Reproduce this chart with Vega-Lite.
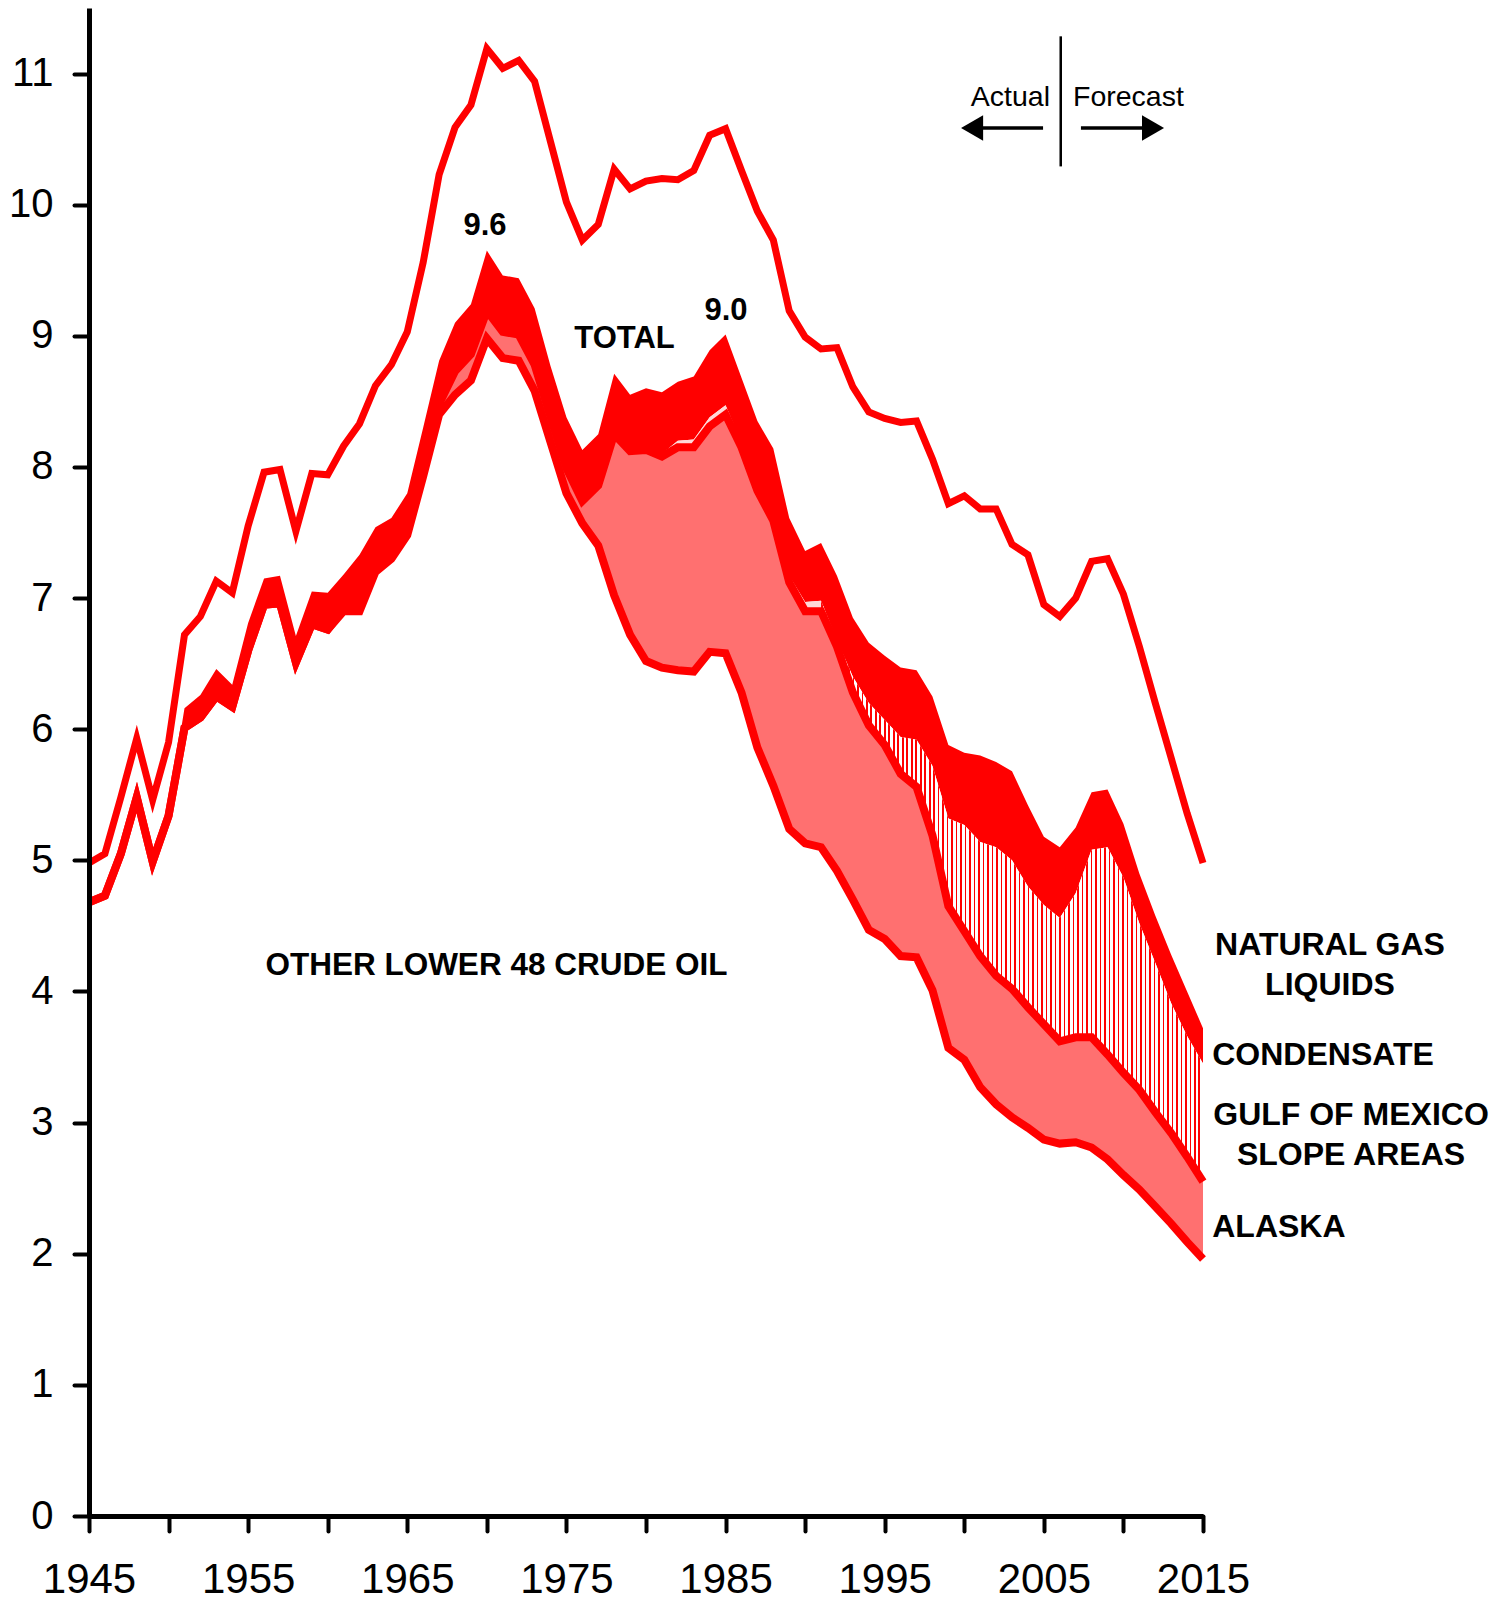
{
  "$schema": "https://vega.github.io/schema/vega-lite/v6.json",
  "width": 1114,
  "height": 1508,
  "autosize": {"type": "none"},
  "padding": {"left": 89, "top": 8, "right": 303, "bottom": 86},
  "background": "white",
  "config": {"view": {"stroke": null}, "font": "Liberation Sans"},
  "datasets": {
    "oil": [
    {"year":1945,"l48":4.68,"ak":4.68,"gom":4.68,"crude":4.70,"total":4.98},
    {"year":1946,"l48":4.73,"ak":4.73,"gom":4.73,"crude":4.75,"total":5.05},
    {"year":1947,"l48":5.05,"ak":5.05,"gom":5.05,"crude":5.09,"total":5.48},
    {"year":1948,"l48":5.48,"ak":5.48,"gom":5.48,"crude":5.52,"total":5.93},
    {"year":1949,"l48":4.99,"ak":4.99,"gom":4.99,"crude":5.05,"total":5.46},
    {"year":1950,"l48":5.34,"ak":5.34,"gom":5.34,"crude":5.41,"total":5.90},
    {"year":1951,"l48":6.01,"ak":6.01,"gom":6.01,"crude":6.16,"total":6.72},
    {"year":1952,"l48":6.09,"ak":6.09,"gom":6.09,"crude":6.26,"total":6.86},
    {"year":1953,"l48":6.25,"ak":6.25,"gom":6.25,"crude":6.46,"total":7.13},
    {"year":1954,"l48":6.17,"ak":6.17,"gom":6.17,"crude":6.34,"total":7.04},
    {"year":1955,"l48":6.60,"ak":6.60,"gom":6.60,"crude":6.81,"total":7.55},
    {"year":1956,"l48":6.95,"ak":6.95,"gom":6.95,"crude":7.15,"total":7.96},
    {"year":1957,"l48":6.96,"ak":6.96,"gom":6.96,"crude":7.17,"total":7.98},
    {"year":1958,"l48":6.51,"ak":6.51,"gom":6.51,"crude":6.71,"total":7.51},
    {"year":1959,"l48":6.80,"ak":6.80,"gom":6.80,"crude":7.05,"total":7.95},
    {"year":1960,"l48":6.76,"ak":6.76,"gom":6.76,"crude":7.04,"total":7.94},
    {"year":1961,"l48":6.90,"ak":6.92,"gom":6.92,"crude":7.18,"total":8.16},
    {"year":1962,"l48":6.90,"ak":6.93,"gom":6.93,"crude":7.33,"total":8.33},
    {"year":1963,"l48":7.20,"ak":7.23,"gom":7.23,"crude":7.54,"total":8.62},
    {"year":1964,"l48":7.30,"ak":7.33,"gom":7.33,"crude":7.61,"total":8.78},
    {"year":1965,"l48":7.48,"ak":7.51,"gom":7.51,"crude":7.80,"total":9.03},
    {"year":1966,"l48":7.93,"ak":7.97,"gom":7.97,"crude":8.30,"total":9.56},
    {"year":1967,"l48":8.40,"ak":8.48,"gom":8.48,"crude":8.81,"total":10.23},
    {"year":1968,"l48":8.55,"ak":8.73,"gom":8.73,"crude":9.10,"total":10.59},
    {"year":1969,"l48":8.66,"ak":8.86,"gom":8.86,"crude":9.24,"total":10.76},
    {"year":1970,"l48":8.98,"ak":9.19,"gom":9.19,"crude":9.65,"total":11.19},
    {"year":1971,"l48":8.83,"ak":9.03,"gom":9.03,"crude":9.46,"total":11.04},
    {"year":1972,"l48":8.81,"ak":9.01,"gom":9.01,"crude":9.44,"total":11.10},
    {"year":1973,"l48":8.58,"ak":8.78,"gom":8.78,"crude":9.21,"total":10.94},
    {"year":1974,"l48":8.19,"ak":8.38,"gom":8.38,"crude":8.77,"total":10.48},
    {"year":1975,"l48":7.80,"ak":7.99,"gom":7.99,"crude":8.38,"total":10.02},
    {"year":1976,"l48":7.57,"ak":7.74,"gom":7.74,"crude":8.13,"total":9.73},
    {"year":1977,"l48":7.40,"ak":7.86,"gom":7.86,"crude":8.25,"total":9.85},
    {"year":1978,"l48":7.02,"ak":8.25,"gom":8.26,"crude":8.71,"total":10.27},
    {"year":1979,"l48":6.72,"ak":8.12,"gom":8.13,"crude":8.55,"total":10.12},
    {"year":1980,"l48":6.52,"ak":8.13,"gom":8.14,"crude":8.60,"total":10.18},
    {"year":1981,"l48":6.47,"ak":8.08,"gom":8.10,"crude":8.57,"total":10.20},
    {"year":1982,"l48":6.45,"ak":8.15,"gom":8.20,"crude":8.65,"total":10.19},
    {"year":1983,"l48":6.44,"ak":8.15,"gom":8.21,"crude":8.69,"total":10.26},
    {"year":1984,"l48":6.59,"ak":8.31,"gom":8.38,"crude":8.89,"total":10.53},
    {"year":1985,"l48":6.58,"ak":8.40,"gom":8.47,"crude":9.01,"total":10.58},
    {"year":1986,"l48":6.28,"ak":8.15,"gom":8.19,"crude":8.68,"total":10.26},
    {"year":1987,"l48":5.86,"ak":7.82,"gom":7.85,"crude":8.35,"total":9.95},
    {"year":1988,"l48":5.57,"ak":7.59,"gom":7.62,"crude":8.14,"total":9.73},
    {"year":1989,"l48":5.24,"ak":7.12,"gom":7.17,"crude":7.61,"total":9.19},
    {"year":1990,"l48":5.13,"ak":6.90,"gom":6.97,"crude":7.36,"total":8.99},
    {"year":1991,"l48":5.10,"ak":6.90,"gom":6.98,"crude":7.42,"total":8.90},
    {"year":1992,"l48":4.92,"ak":6.63,"gom":6.68,"crude":7.17,"total":8.91},
    {"year":1993,"l48":4.70,"ak":6.28,"gom":6.40,"crude":6.85,"total":8.61},
    {"year":1994,"l48":4.47,"ak":6.03,"gom":6.20,"crude":6.66,"total":8.42},
    {"year":1995,"l48":4.40,"ak":5.88,"gom":6.07,"crude":6.56,"total":8.37},
    {"year":1996,"l48":4.27,"ak":5.66,"gom":5.94,"crude":6.47,"total":8.34},
    {"year":1997,"l48":4.26,"ak":5.56,"gom":5.92,"crude":6.45,"total":8.35},
    {"year":1998,"l48":4.01,"ak":5.19,"gom":5.72,"crude":6.25,"total":8.06},
    {"year":1999,"l48":3.57,"ak":4.65,"gom":5.32,"crude":5.88,"total":7.72},
    {"year":2000,"l48":3.48,"ak":4.46,"gom":5.27,"crude":5.82,"total":7.78},
    {"year":2001,"l48":3.27,"ak":4.27,"gom":5.14,"crude":5.80,"total":7.68},
    {"year":2002,"l48":3.14,"ak":4.12,"gom":5.10,"crude":5.75,"total":7.68},
    {"year":2003,"l48":3.04,"ak":4.02,"gom":5.00,"crude":5.68,"total":7.41},
    {"year":2004,"l48":2.96,"ak":3.88,"gom":4.80,"crude":5.42,"total":7.33},
    {"year":2005,"l48":2.87,"ak":3.75,"gom":4.66,"crude":5.18,"total":6.95},
    {"year":2006,"l48":2.84,"ak":3.62,"gom":4.56,"crude":5.10,"total":6.86},
    {"year":2007,"l48":2.85,"ak":3.65,"gom":4.75,"crude":5.25,"total":7.00},
    {"year":2008,"l48":2.81,"ak":3.65,"gom":5.08,"crude":5.52,"total":7.28},
    {"year":2009,"l48":2.72,"ak":3.52,"gom":5.10,"crude":5.54,"total":7.30},
    {"year":2010,"l48":2.60,"ak":3.38,"gom":4.87,"crude":5.28,"total":7.03},
    {"year":2011,"l48":2.49,"ak":3.25,"gom":4.52,"crude":4.90,"total":6.63},
    {"year":2012,"l48":2.36,"ak":3.08,"gom":4.22,"crude":4.58,"total":6.20},
    {"year":2013,"l48":2.23,"ak":2.92,"gom":3.91,"crude":4.28,"total":5.78},
    {"year":2014,"l48":2.09,"ak":2.74,"gom":3.66,"crude":4.00,"total":5.36},
    {"year":2015,"l48":1.96,"ak":2.55,"gom":3.45,"crude":3.72,"total":4.98}
    ]
  },
  "layer": [
    {
      "data": {"name": "oil"},
      "mark": {"type": "area", "color": "#ff0000"},
      "encoding": {
        "x": {
          "field": "year", "type": "quantitative", "title": null,
          "scale": {"domain": [1945, 2015], "nice": false, "zero": false},
          "axis": {
            "values": [1945,1950,1955,1960,1965,1970,1975,1980,1985,1990,1995,2000,2005,2010,2015],
            "format": "d",
            "labelExpr": "(datum.value - 1945) % 10 === 0 ? datum.label : ''",
            "tickSize": 15, "tickWidth": 4, "tickColor": "black", "tickCap": "round",
            "domainWidth": 5, "domainColor": "black",
            "labelFont": "Liberation Sans", "labelFontSize": 42, "labelColor": "black",
            "labelPadding": 28, "labelFlush": false, "labelOverlap": false, "labelBound": false,
            "grid": false, "zindex": 1
          }
        },
        "y": {
          "field": "gom", "type": "quantitative", "title": null,
          "scale": {"domain": [0, 11.5], "nice": false, "zero": true},
          "axis": {
            "values": [0,0.5,1,1.5,2,2.5,3,3.5,4,4.5,5,5.5,6,6.5,7,7.5,8,8.5,9,9.5,10,10.5,11,11.5],
            "format": "d",
            "labelExpr": "datum.value % 1 === 0 ? format(datum.value, 'd') : ''",
            "tickSize": {"condition": {"test": "datum.value % 1 === 0", "value": 15}, "value": 10},
            "tickWidth": 4, "tickColor": "black", "tickCap": "round",
            "domainWidth": 5, "domainColor": "black",
            "labelFont": "Liberation Sans", "labelFontSize": 40, "labelColor": "black",
            "labelPadding": 21, "labelFlush": false, "labelOverlap": false, "labelBound": false,
            "grid": false, "zindex": 1
          }
        },
        "y2": {"field": "crude"}
      }
    },
    {
      "data": {"name": "oil"},
      "transform": [{"filter": "datum.year >= 1976 && datum.year <= 1991"}],
      "mark": {"type": "area", "color": "#ffd8d8"},
      "encoding": {
        "x": {"field": "year", "type": "quantitative"},
        "y": {"field": "ak", "type": "quantitative", "title": null},
        "y2": {"field": "gom"}
      }
    },
    {
      "data": {"name": "oil"},
      "transform": [{"filter": "datum.year >= 1991"}],
      "mark": {"type": "area", "fill": {"gradient": "linear", "x1": 0, "y1": 0, "x2": 1, "y2": 0, "stops": [
        {"offset":0,"color":"#f00"},{"offset":0.0042,"color":"#f00"},{"offset":0.0042,"color":"#fff"},
        {"offset":0.0118,"color":"#fff"},{"offset":0.0118,"color":"#f00"},{"offset":0.016,"color":"#f00"},{"offset":0.016,"color":"#fff"},
        {"offset":0.0235,"color":"#fff"},{"offset":0.0235,"color":"#f00"},{"offset":0.0277,"color":"#f00"},{"offset":0.0277,"color":"#fff"},
        {"offset":0.0353,"color":"#fff"},{"offset":0.0353,"color":"#f00"},{"offset":0.0395,"color":"#f00"},{"offset":0.0395,"color":"#fff"},
        {"offset":0.0471,"color":"#fff"},{"offset":0.0471,"color":"#f00"},{"offset":0.0513,"color":"#f00"},{"offset":0.0513,"color":"#fff"},
        {"offset":0.0588,"color":"#fff"},{"offset":0.0588,"color":"#f00"},{"offset":0.063,"color":"#f00"},{"offset":0.063,"color":"#fff"},
        {"offset":0.0706,"color":"#fff"},{"offset":0.0706,"color":"#f00"},{"offset":0.0748,"color":"#f00"},{"offset":0.0748,"color":"#fff"},
        {"offset":0.0824,"color":"#fff"},{"offset":0.0824,"color":"#f00"},{"offset":0.0866,"color":"#f00"},{"offset":0.0866,"color":"#fff"},
        {"offset":0.0941,"color":"#fff"},{"offset":0.0941,"color":"#f00"},{"offset":0.0983,"color":"#f00"},{"offset":0.0983,"color":"#fff"},
        {"offset":0.1059,"color":"#fff"},{"offset":0.1059,"color":"#f00"},{"offset":0.1101,"color":"#f00"},{"offset":0.1101,"color":"#fff"},
        {"offset":0.1176,"color":"#fff"},{"offset":0.1176,"color":"#f00"},{"offset":0.1218,"color":"#f00"},{"offset":0.1218,"color":"#fff"},
        {"offset":0.1294,"color":"#fff"},{"offset":0.1294,"color":"#f00"},{"offset":0.1336,"color":"#f00"},{"offset":0.1336,"color":"#fff"},
        {"offset":0.1412,"color":"#fff"},{"offset":0.1412,"color":"#f00"},{"offset":0.1454,"color":"#f00"},{"offset":0.1454,"color":"#fff"},
        {"offset":0.1529,"color":"#fff"},{"offset":0.1529,"color":"#f00"},{"offset":0.1571,"color":"#f00"},{"offset":0.1571,"color":"#fff"},
        {"offset":0.1647,"color":"#fff"},{"offset":0.1647,"color":"#f00"},{"offset":0.1689,"color":"#f00"},{"offset":0.1689,"color":"#fff"},
        {"offset":0.1765,"color":"#fff"},{"offset":0.1765,"color":"#f00"},{"offset":0.1807,"color":"#f00"},{"offset":0.1807,"color":"#fff"},
        {"offset":0.1882,"color":"#fff"},{"offset":0.1882,"color":"#f00"},{"offset":0.1924,"color":"#f00"},{"offset":0.1924,"color":"#fff"},
        {"offset":0.2,"color":"#fff"},{"offset":0.2,"color":"#f00"},{"offset":0.2042,"color":"#f00"},{"offset":0.2042,"color":"#fff"},
        {"offset":0.2118,"color":"#fff"},{"offset":0.2118,"color":"#f00"},{"offset":0.216,"color":"#f00"},{"offset":0.216,"color":"#fff"},
        {"offset":0.2235,"color":"#fff"},{"offset":0.2235,"color":"#f00"},{"offset":0.2277,"color":"#f00"},{"offset":0.2277,"color":"#fff"},
        {"offset":0.2353,"color":"#fff"},{"offset":0.2353,"color":"#f00"},{"offset":0.2395,"color":"#f00"},{"offset":0.2395,"color":"#fff"},
        {"offset":0.2471,"color":"#fff"},{"offset":0.2471,"color":"#f00"},{"offset":0.2513,"color":"#f00"},{"offset":0.2513,"color":"#fff"},
        {"offset":0.2588,"color":"#fff"},{"offset":0.2588,"color":"#f00"},{"offset":0.263,"color":"#f00"},{"offset":0.263,"color":"#fff"},
        {"offset":0.2706,"color":"#fff"},{"offset":0.2706,"color":"#f00"},{"offset":0.2748,"color":"#f00"},{"offset":0.2748,"color":"#fff"},
        {"offset":0.2824,"color":"#fff"},{"offset":0.2824,"color":"#f00"},{"offset":0.2866,"color":"#f00"},{"offset":0.2866,"color":"#fff"},
        {"offset":0.2941,"color":"#fff"},{"offset":0.2941,"color":"#f00"},{"offset":0.2983,"color":"#f00"},{"offset":0.2983,"color":"#fff"},
        {"offset":0.3059,"color":"#fff"},{"offset":0.3059,"color":"#f00"},{"offset":0.3101,"color":"#f00"},{"offset":0.3101,"color":"#fff"},
        {"offset":0.3176,"color":"#fff"},{"offset":0.3176,"color":"#f00"},{"offset":0.3218,"color":"#f00"},{"offset":0.3218,"color":"#fff"},
        {"offset":0.3294,"color":"#fff"},{"offset":0.3294,"color":"#f00"},{"offset":0.3336,"color":"#f00"},{"offset":0.3336,"color":"#fff"},
        {"offset":0.3412,"color":"#fff"},{"offset":0.3412,"color":"#f00"},{"offset":0.3454,"color":"#f00"},{"offset":0.3454,"color":"#fff"},
        {"offset":0.3529,"color":"#fff"},{"offset":0.3529,"color":"#f00"},{"offset":0.3571,"color":"#f00"},{"offset":0.3571,"color":"#fff"},
        {"offset":0.3647,"color":"#fff"},{"offset":0.3647,"color":"#f00"},{"offset":0.3689,"color":"#f00"},{"offset":0.3689,"color":"#fff"},
        {"offset":0.3765,"color":"#fff"},{"offset":0.3765,"color":"#f00"},{"offset":0.3807,"color":"#f00"},{"offset":0.3807,"color":"#fff"},
        {"offset":0.3882,"color":"#fff"},{"offset":0.3882,"color":"#f00"},{"offset":0.3924,"color":"#f00"},{"offset":0.3924,"color":"#fff"},
        {"offset":0.4,"color":"#fff"},{"offset":0.4,"color":"#f00"},{"offset":0.4042,"color":"#f00"},{"offset":0.4042,"color":"#fff"},
        {"offset":0.4118,"color":"#fff"},{"offset":0.4118,"color":"#f00"},{"offset":0.416,"color":"#f00"},{"offset":0.416,"color":"#fff"},
        {"offset":0.4235,"color":"#fff"},{"offset":0.4235,"color":"#f00"},{"offset":0.4277,"color":"#f00"},{"offset":0.4277,"color":"#fff"},
        {"offset":0.4353,"color":"#fff"},{"offset":0.4353,"color":"#f00"},{"offset":0.4395,"color":"#f00"},{"offset":0.4395,"color":"#fff"},
        {"offset":0.4471,"color":"#fff"},{"offset":0.4471,"color":"#f00"},{"offset":0.4513,"color":"#f00"},{"offset":0.4513,"color":"#fff"},
        {"offset":0.4588,"color":"#fff"},{"offset":0.4588,"color":"#f00"},{"offset":0.463,"color":"#f00"},{"offset":0.463,"color":"#fff"},
        {"offset":0.4706,"color":"#fff"},{"offset":0.4706,"color":"#f00"},{"offset":0.4748,"color":"#f00"},{"offset":0.4748,"color":"#fff"},
        {"offset":0.4824,"color":"#fff"},{"offset":0.4824,"color":"#f00"},{"offset":0.4866,"color":"#f00"},{"offset":0.4866,"color":"#fff"},
        {"offset":0.4941,"color":"#fff"},{"offset":0.4941,"color":"#f00"},{"offset":0.4983,"color":"#f00"},{"offset":0.4983,"color":"#fff"},
        {"offset":0.5059,"color":"#fff"},{"offset":0.5059,"color":"#f00"},{"offset":0.5101,"color":"#f00"},{"offset":0.5101,"color":"#fff"},
        {"offset":0.5176,"color":"#fff"},{"offset":0.5176,"color":"#f00"},{"offset":0.5218,"color":"#f00"},{"offset":0.5218,"color":"#fff"},
        {"offset":0.5294,"color":"#fff"},{"offset":0.5294,"color":"#f00"},{"offset":0.5336,"color":"#f00"},{"offset":0.5336,"color":"#fff"},
        {"offset":0.5412,"color":"#fff"},{"offset":0.5412,"color":"#f00"},{"offset":0.5454,"color":"#f00"},{"offset":0.5454,"color":"#fff"},
        {"offset":0.5529,"color":"#fff"},{"offset":0.5529,"color":"#f00"},{"offset":0.5571,"color":"#f00"},{"offset":0.5571,"color":"#fff"},
        {"offset":0.5647,"color":"#fff"},{"offset":0.5647,"color":"#f00"},{"offset":0.5689,"color":"#f00"},{"offset":0.5689,"color":"#fff"},
        {"offset":0.5765,"color":"#fff"},{"offset":0.5765,"color":"#f00"},{"offset":0.5807,"color":"#f00"},{"offset":0.5807,"color":"#fff"},
        {"offset":0.5882,"color":"#fff"},{"offset":0.5882,"color":"#f00"},{"offset":0.5924,"color":"#f00"},{"offset":0.5924,"color":"#fff"},
        {"offset":0.6,"color":"#fff"},{"offset":0.6,"color":"#f00"},{"offset":0.6042,"color":"#f00"},{"offset":0.6042,"color":"#fff"},
        {"offset":0.6118,"color":"#fff"},{"offset":0.6118,"color":"#f00"},{"offset":0.616,"color":"#f00"},{"offset":0.616,"color":"#fff"},
        {"offset":0.6235,"color":"#fff"},{"offset":0.6235,"color":"#f00"},{"offset":0.6277,"color":"#f00"},{"offset":0.6277,"color":"#fff"},
        {"offset":0.6353,"color":"#fff"},{"offset":0.6353,"color":"#f00"},{"offset":0.6395,"color":"#f00"},{"offset":0.6395,"color":"#fff"},
        {"offset":0.6471,"color":"#fff"},{"offset":0.6471,"color":"#f00"},{"offset":0.6513,"color":"#f00"},{"offset":0.6513,"color":"#fff"},
        {"offset":0.6588,"color":"#fff"},{"offset":0.6588,"color":"#f00"},{"offset":0.663,"color":"#f00"},{"offset":0.663,"color":"#fff"},
        {"offset":0.6706,"color":"#fff"},{"offset":0.6706,"color":"#f00"},{"offset":0.6748,"color":"#f00"},{"offset":0.6748,"color":"#fff"},
        {"offset":0.6824,"color":"#fff"},{"offset":0.6824,"color":"#f00"},{"offset":0.6866,"color":"#f00"},{"offset":0.6866,"color":"#fff"},
        {"offset":0.6941,"color":"#fff"},{"offset":0.6941,"color":"#f00"},{"offset":0.6983,"color":"#f00"},{"offset":0.6983,"color":"#fff"},
        {"offset":0.7059,"color":"#fff"},{"offset":0.7059,"color":"#f00"},{"offset":0.7101,"color":"#f00"},{"offset":0.7101,"color":"#fff"},
        {"offset":0.7176,"color":"#fff"},{"offset":0.7176,"color":"#f00"},{"offset":0.7218,"color":"#f00"},{"offset":0.7218,"color":"#fff"},
        {"offset":0.7294,"color":"#fff"},{"offset":0.7294,"color":"#f00"},{"offset":0.7336,"color":"#f00"},{"offset":0.7336,"color":"#fff"},
        {"offset":0.7412,"color":"#fff"},{"offset":0.7412,"color":"#f00"},{"offset":0.7454,"color":"#f00"},{"offset":0.7454,"color":"#fff"},
        {"offset":0.7529,"color":"#fff"},{"offset":0.7529,"color":"#f00"},{"offset":0.7571,"color":"#f00"},{"offset":0.7571,"color":"#fff"},
        {"offset":0.7647,"color":"#fff"},{"offset":0.7647,"color":"#f00"},{"offset":0.7689,"color":"#f00"},{"offset":0.7689,"color":"#fff"},
        {"offset":0.7765,"color":"#fff"},{"offset":0.7765,"color":"#f00"},{"offset":0.7807,"color":"#f00"},{"offset":0.7807,"color":"#fff"},
        {"offset":0.7882,"color":"#fff"},{"offset":0.7882,"color":"#f00"},{"offset":0.7924,"color":"#f00"},{"offset":0.7924,"color":"#fff"},
        {"offset":0.8,"color":"#fff"},{"offset":0.8,"color":"#f00"},{"offset":0.8042,"color":"#f00"},{"offset":0.8042,"color":"#fff"},
        {"offset":0.8118,"color":"#fff"},{"offset":0.8118,"color":"#f00"},{"offset":0.816,"color":"#f00"},{"offset":0.816,"color":"#fff"},
        {"offset":0.8235,"color":"#fff"},{"offset":0.8235,"color":"#f00"},{"offset":0.8277,"color":"#f00"},{"offset":0.8277,"color":"#fff"},
        {"offset":0.8353,"color":"#fff"},{"offset":0.8353,"color":"#f00"},{"offset":0.8395,"color":"#f00"},{"offset":0.8395,"color":"#fff"},
        {"offset":0.8471,"color":"#fff"},{"offset":0.8471,"color":"#f00"},{"offset":0.8513,"color":"#f00"},{"offset":0.8513,"color":"#fff"},
        {"offset":0.8588,"color":"#fff"},{"offset":0.8588,"color":"#f00"},{"offset":0.863,"color":"#f00"},{"offset":0.863,"color":"#fff"},
        {"offset":0.8706,"color":"#fff"},{"offset":0.8706,"color":"#f00"},{"offset":0.8748,"color":"#f00"},{"offset":0.8748,"color":"#fff"},
        {"offset":0.8824,"color":"#fff"},{"offset":0.8824,"color":"#f00"},{"offset":0.8866,"color":"#f00"},{"offset":0.8866,"color":"#fff"},
        {"offset":0.8941,"color":"#fff"},{"offset":0.8941,"color":"#f00"},{"offset":0.8983,"color":"#f00"},{"offset":0.8983,"color":"#fff"},
        {"offset":0.9059,"color":"#fff"},{"offset":0.9059,"color":"#f00"},{"offset":0.9101,"color":"#f00"},{"offset":0.9101,"color":"#fff"},
        {"offset":0.9176,"color":"#fff"},{"offset":0.9176,"color":"#f00"},{"offset":0.9218,"color":"#f00"},{"offset":0.9218,"color":"#fff"},
        {"offset":0.9294,"color":"#fff"},{"offset":0.9294,"color":"#f00"},{"offset":0.9336,"color":"#f00"},{"offset":0.9336,"color":"#fff"},
        {"offset":0.9412,"color":"#fff"},{"offset":0.9412,"color":"#f00"},{"offset":0.9454,"color":"#f00"},{"offset":0.9454,"color":"#fff"},
        {"offset":0.9529,"color":"#fff"},{"offset":0.9529,"color":"#f00"},{"offset":0.9571,"color":"#f00"},{"offset":0.9571,"color":"#fff"},
        {"offset":0.9647,"color":"#fff"},{"offset":0.9647,"color":"#f00"},{"offset":0.9689,"color":"#f00"},{"offset":0.9689,"color":"#fff"},
        {"offset":0.9765,"color":"#fff"},{"offset":0.9765,"color":"#f00"},{"offset":0.9807,"color":"#f00"},{"offset":0.9807,"color":"#fff"},
        {"offset":0.9882,"color":"#fff"},{"offset":0.9882,"color":"#f00"},{"offset":0.9924,"color":"#f00"},{"offset":0.9924,"color":"#fff"},
        {"offset":1,"color":"#fff"}
      ]}},
      "encoding": {
        "x": {"field": "year", "type": "quantitative"},
        "y": {"field": "ak", "type": "quantitative", "title": null},
        "y2": {"field": "gom"}
      }
    },
    {
      "data": {"name": "oil"},
      "mark": {"type": "area", "color": "#ff7070"},
      "encoding": {
        "x": {"field": "year", "type": "quantitative"},
        "y": {"field": "l48", "type": "quantitative", "title": null},
        "y2": {"field": "ak"}
      }
    },
    {
      "data": {"name": "oil"},
      "mark": {"type": "line", "color": "#ff0000", "strokeWidth": 8},
      "encoding": {
        "x": {"field": "year", "type": "quantitative"},
        "y": {"field": "l48", "type": "quantitative", "title": null}
      }
    },
    {
      "data": {"name": "oil"},
      "mark": {"type": "line", "color": "#ff0000", "strokeWidth": 8},
      "encoding": {
        "x": {"field": "year", "type": "quantitative"},
        "y": {"field": "ak", "type": "quantitative", "title": null}
      }
    },
    {
      "data": {"name": "oil"},
      "mark": {"type": "line", "color": "#ff0000", "strokeWidth": 7},
      "encoding": {
        "x": {"field": "year", "type": "quantitative"},
        "y": {"field": "total", "type": "quantitative", "title": null}
      }
    },
    {
      "data": {"values": [{"k": 1}]},
      "mark": {"type": "rule", "color": "black", "strokeWidth": 2.5},
      "encoding": {"x": {"datum": 2006.06}, "y": {"datum": 11.284}, "y2": {"datum": 10.292}}
    },
    {
      "data": {"values": [{"k": 1}]},
      "mark": {"type": "rule", "color": "black", "strokeWidth": 3.3},
      "encoding": {"x": {"datum": 2000.6}, "x2": {"datum": 2004.95}, "y": {"datum": 10.585}}
    },
    {
      "data": {"values": [{"k": 1}]},
      "mark": {"type": "rule", "color": "black", "strokeWidth": 3.3},
      "encoding": {"x": {"datum": 2007.33}, "x2": {"datum": 2011.75}, "y": {"datum": 10.585}}
    },
    {
      "data": {"values": [{"k": 1}]},
      "mark": {"type": "point", "shape": "triangle-left", "filled": true, "color": "black", "opacity": 1, "size": 650, "strokeWidth": 0},
      "encoding": {"x": {"datum": 2000.49}, "y": {"datum": 10.585}}
    },
    {
      "data": {"values": [{"k": 1}]},
      "mark": {"type": "point", "shape": "triangle-right", "filled": true, "color": "black", "opacity": 1, "size": 650, "strokeWidth": 0},
      "encoding": {"x": {"datum": 2011.86}, "y": {"datum": 10.585}}
    },
    {
      "data": {"values": [{"k": 1}]},
      "mark": {"type": "text", "text": "Actual", "font": "Liberation Sans", "fontSize": 28.5, "align": "right", "baseline": "alphabetic", "color": "black"},
      "encoding": {"x": {"datum": 2005.39}, "y": {"datum": 10.755}}
    },
    {
      "data": {"values": [{"k": 1}]},
      "mark": {"type": "text", "text": "Forecast", "font": "Liberation Sans", "fontSize": 28.5, "align": "left", "baseline": "alphabetic", "color": "black"},
      "encoding": {"x": {"datum": 2006.83}, "y": {"datum": 10.755}}
    },
    {
      "data": {"values": [{"k": 1}]},
      "mark": {"type": "text", "text": "9.6", "font": "Liberation Sans", "fontWeight": "bold", "fontSize": 31, "align": "center", "baseline": "alphabetic", "color": "black"},
      "encoding": {"x": {"datum": 1969.88}, "y": {"datum": 9.771}}
    },
    {
      "data": {"values": [{"k": 1}]},
      "mark": {"type": "text", "text": "9.0", "font": "Liberation Sans", "fontWeight": "bold", "fontSize": 31, "align": "center", "baseline": "alphabetic", "color": "black"},
      "encoding": {"x": {"datum": 1985.03}, "y": {"datum": 9.123}}
    },
    {
      "data": {"values": [{"k": 1}]},
      "mark": {"type": "text", "text": "TOTAL", "font": "Liberation Sans", "fontWeight": "bold", "fontSize": 31, "align": "center", "baseline": "alphabetic", "color": "black"},
      "encoding": {"x": {"datum": 1978.65}, "y": {"datum": 8.907}}
    },
    {
      "data": {"values": [{"k": 1}]},
      "mark": {"type": "text", "text": "OTHER LOWER 48 CRUDE OIL", "font": "Liberation Sans", "fontWeight": "bold", "fontSize": 31.5, "align": "center", "baseline": "alphabetic", "color": "black"},
      "encoding": {"x": {"datum": 1970.6}, "y": {"datum": 4.127}}
    },
    {
      "data": {"values": [{"k": 1}]},
      "mark": {"type": "text", "text": "NATURAL GAS", "font": "Liberation Sans", "fontWeight": "bold", "fontSize": 32, "align": "center", "baseline": "alphabetic", "color": "black"},
      "encoding": {"x": {"datum": 2022.98}, "y": {"datum": 4.279}}
    },
    {
      "data": {"values": [{"k": 1}]},
      "mark": {"type": "text", "text": "LIQUIDS", "font": "Liberation Sans", "fontWeight": "bold", "fontSize": 32, "align": "center", "baseline": "alphabetic", "color": "black"},
      "encoding": {"x": {"datum": 2022.98}, "y": {"datum": 3.974}}
    },
    {
      "data": {"values": [{"k": 1}]},
      "mark": {"type": "text", "text": "CONDENSATE", "font": "Liberation Sans", "fontWeight": "bold", "fontSize": 32, "align": "left", "baseline": "alphabetic", "color": "black"},
      "encoding": {"x": {"datum": 2015.58}, "y": {"datum": 3.44}}
    },
    {
      "data": {"values": [{"k": 1}]},
      "mark": {"type": "text", "text": "GULF OF MEXICO", "font": "Liberation Sans", "fontWeight": "bold", "fontSize": 32, "align": "center", "baseline": "alphabetic", "color": "black"},
      "encoding": {"x": {"datum": 2024.3}, "y": {"datum": 2.982}}
    },
    {
      "data": {"values": [{"k": 1}]},
      "mark": {"type": "text", "text": "SLOPE AREAS", "font": "Liberation Sans", "fontWeight": "bold", "fontSize": 32, "align": "center", "baseline": "alphabetic", "color": "black"},
      "encoding": {"x": {"datum": 2024.3}, "y": {"datum": 2.677}}
    },
    {
      "data": {"values": [{"k": 1}]},
      "mark": {"type": "text", "text": "ALASKA", "font": "Liberation Sans", "fontWeight": "bold", "fontSize": 32, "align": "left", "baseline": "alphabetic", "color": "black"},
      "encoding": {"x": {"datum": 2015.58}, "y": {"datum": 2.128}}
    }
  ]
}
